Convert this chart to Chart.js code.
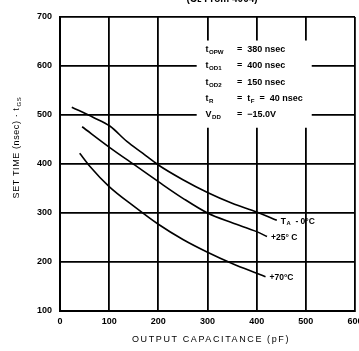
<!DOCTYPE html>
<html>
<head>
<meta charset="utf-8">
<script src="https://cdn.jsdelivr.net/npm/chart.js@4.4.0/dist/chart.umd.min.js"></script>
<style>
	html, body { margin: 0; padding: 0; background: #fff; }
	#wrap { width: 359px; height: 351px; }
</style>
</head>
<body>
<div id="wrap"><canvas id="setTimeChart" width="359" height="351"></canvas></div>
<script>
// set time vs output capacitance, one curve per ambient temperature
var capT0 = [24, 68, 102, 136, 168, 200, 250, 300, 350, 400, 441];
var setT0 = [516, 495, 477, 446, 422, 398, 368, 342, 320, 302, 285];

var capT25 = [45, 102, 156, 200, 250, 300, 350, 400, 421];
var setT25 = [476, 433, 395, 364, 330, 300, 280, 262, 252];

var capT70 = [40, 61, 100, 150, 200, 250, 300, 350, 400, 418];
var setT70 = [422, 395, 354, 314, 277, 246, 220, 197, 177, 170];

var xTicks = [0, 100, 200, 300, 400, 500, 600];
var yTicks = [100, 200, 300, 400, 500, 600, 700];

// curve labels, split into [text, subscript?] pieces
var curveLabels = [
	[["T", false], ["A", true], ["  - 0\u00b0C", false]],
	[["+25\u00b0 C", false]],
	[["+70\u00b0C", false]]
];

// test conditions block: symbol pieces, then value pieces
var condSymbols = [
	[["t", false], ["OPW", true]],
	[["t", false], ["OD1", true]],
	[["t", false], ["OD2", true]],
	[["t", false], ["R", true]],
	[["V", false], ["DD", true]]
];
var condValues = [
	[["=  380 nsec", false]],
	[["=  400 nsec", false]],
	[["=  150 nsec", false]],
	[["=  t", false], ["F", true], ["  =  40 nsec", false]],
	[["=  \u221215.0V", false]]
];

var xAxisTitle = "OUTPUT CAPACITANCE (pF)";
var yAxisTitle = "SET TIME (nsec) \u00b7 t";
var topTitle = "(C\u029f From 4004)";

function toPoints(xs, ys) {
	var pts = [];
	for (var i = 0; i < xs.length; i++) {
		pts.push({ x: xs[i], y: ys[i] });
	}
	return pts;
}

var FONT = "'Liberation Sans', Arial, sans-serif";

function curveSet(xs, ys) {
	return {
		data: toPoints(xs, ys),
		borderColor: "#000",
		borderWidth: 1.6,
		pointRadius: 0,
		fill: false,
		tension: 0.4,
		cubicInterpolationMode: "monotone"
	};
}

// writes a run of text with subscripts, returns its end x
function drawPieces(ctx, pieces, x, y, size) {
	pieces.forEach(function (p) {
		if (p[1]) {
			ctx.font = "bold " + (size * 0.68) + "px " + FONT;
			ctx.fillText(p[0], x + 0.5, y + 2.5);
			x += ctx.measureText(p[0]).width + 0.5;
		} else {
			ctx.font = "bold " + size + "px " + FONT;
			ctx.fillText(p[0], x, y);
			x += ctx.measureText(p[0]).width;
		}
	});
	return x;
}

var annotate = {
	id: "annotate",
	beforeDatasetsDraw: function (chart) {
		var ctx = chart.ctx;
		var xs = chart.scales.x;
		var ys = chart.scales.y;
		ctx.save();
		// white block behind the test conditions
		var bx = xs.getPixelForValue(278), by = ys.getPixelForValue(652);
		ctx.fillStyle = "#fff";
		ctx.fillRect(bx, by, xs.getPixelForValue(512) - bx, ys.getPixelForValue(474) - by);
		ctx.fillStyle = "#000";
		ctx.textBaseline = "middle";
		var x0 = xs.getPixelForValue(296);
		var xv = xs.getPixelForValue(360);
		for (var i = 0; i < condSymbols.length; i++) {
			var y = ys.getPixelForValue(633.3 - i * 33.3);
			drawPieces(ctx, condSymbols[i], x0, y, 9);
			drawPieces(ctx, condValues[i], xv, y, 9);
		}
		ctx.restore();
	},
	afterDraw: function (chart) {
		var ctx = chart.ctx;
		var xs = chart.scales.x;
		var ys = chart.scales.y;
		ctx.save();
		ctx.fillStyle = "#000";
		ctx.textBaseline = "middle";
		// labels at the end of each curve
		chart.data.datasets.forEach(function (ds, i) {
			var last = ds.data[ds.data.length - 1];
			drawPieces(ctx, curveLabels[i], xs.getPixelForValue(last.x) + 4, ys.getPixelForValue(last.y) + 1, 8.5);
		});
		// axis titles
		ctx.font = "9px " + FONT;
		ctx.textAlign = "center";
		ctx.letterSpacing = "1.6px";
		ctx.fillText(xAxisTitle, 211, 340);
		ctx.save();
		ctx.translate(17, 149);
		ctx.rotate(-Math.PI / 2);
		ctx.letterSpacing = "0.6px";
		ctx.fillText(yAxisTitle, -4, 0);
		var tw = ctx.measureText(yAxisTitle).width;
		ctx.font = "6px " + FONT;
		ctx.textAlign = "left";
		ctx.fillText("GS", tw / 2 - 3, 2.5);
		ctx.restore();
		ctx.letterSpacing = "0px";
		// title cut by the top edge
		ctx.font = "bold 10px " + FONT;
		ctx.textAlign = "center";
		ctx.textBaseline = "alphabetic";
		ctx.fillText(topTitle, 222, 2);
		ctx.restore();
	}
};

new Chart(document.getElementById("setTimeChart"), {
	type: "line",
	data: {
		datasets: [
			curveSet(capT0, setT0),
			curveSet(capT25, setT25),
			curveSet(capT70, setT70)
		]
	},
	options: {
		responsive: false,
		animation: false,
		events: [],
		layout: { padding: { top: 17, right: 4, left: 0, bottom: 0 } },
		plugins: {
			legend: { display: false },
			tooltip: { enabled: false }
		},
		scales: {
			x: {
				type: "linear",
				min: 0,
				max: 600,
				afterBuildTicks: function (scale) {
					scale.ticks = xTicks.map(function (v) { return { value: v }; });
				},
				afterFit: function (scale) {
					scale.height = 40;
					scale.paddingRight = 0;
					scale.paddingLeft = 0;
				},
				grid: { color: "#000", lineWidth: 1.8, drawTicks: false },
				border: { color: "#000", width: 2 },
				ticks: {
					color: "#000",
					padding: 5,
					maxRotation: 0,
					font: { family: FONT, size: 9, weight: "bold" }
				}
			},
			y: {
				type: "linear",
				min: 100,
				max: 700,
				afterBuildTicks: function (scale) {
					scale.ticks = yTicks.map(function (v) { return { value: v }; });
				},
				afterFit: function (scale) {
					scale.width = 60;
					scale.paddingTop = 0;
					scale.paddingBottom = 0;
				},
				grid: { color: "#000", lineWidth: 1.8, drawTicks: false },
				border: { color: "#000", width: 2 },
				ticks: {
					color: "#000",
					padding: 8,
					font: { family: FONT, size: 9, weight: "bold" }
				}
			}
		}
	},
	plugins: [annotate]
});
</script>
</body>
</html>
